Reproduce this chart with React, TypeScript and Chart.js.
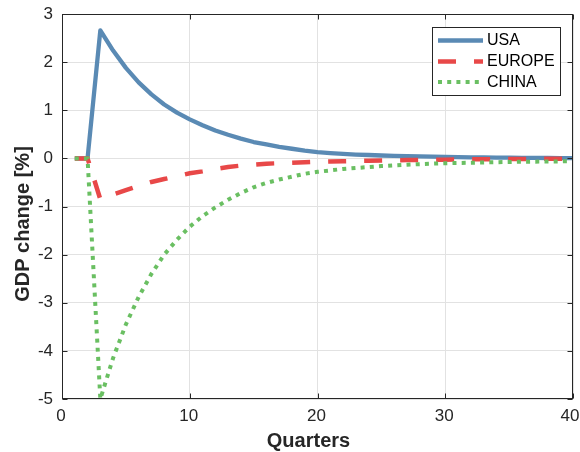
import { useEffect, useRef } from 'react';
import { Chart, registerables } from 'chart.js';

Chart.register(...registerables);

const quarters = [
  1, 2, 3, 4, 5, 6, 7, 8, 9, 10,
  11, 12, 13, 14, 15, 16, 17, 18, 19, 20,
  21, 22, 23, 24, 25, 26, 27, 28, 29, 30,
  31, 32, 33, 34, 35, 36, 37, 38, 39, 40,
];

const usa = [
  0, 0, 2.66, 2.24, 1.88, 1.58, 1.33, 1.12, 0.95, 0.81,
  0.69, 0.58, 0.49, 0.41, 0.34, 0.29, 0.24, 0.2, 0.16, 0.13,
  0.11, 0.095, 0.08, 0.07, 0.06, 0.052, 0.045, 0.04, 0.035, 0.03,
  0.026, 0.022, 0.019, 0.016, 0.014, 0.012, 0.01, 0.008, 0.007, 0.006,
];

const europe = [
  0, 0, -0.85, -0.75, -0.66, -0.57, -0.49, -0.43, -0.37, -0.31,
  -0.27, -0.22, -0.18, -0.15, -0.13, -0.11, -0.1, -0.09, -0.08, -0.07,
  -0.065, -0.06, -0.055, -0.05, -0.045, -0.04, -0.036, -0.032, -0.029, -0.026,
  -0.023, -0.02, -0.018, -0.016, -0.014, -0.012, -0.011, -0.01, -0.009, -0.008,
];

const china = [
  0, 0, -5.0, -4.15, -3.45, -2.88, -2.4, -2.0, -1.69, -1.42,
  -1.2, -1.02, -0.86, -0.72, -0.6, -0.51, -0.44, -0.38, -0.32, -0.28,
  -0.25, -0.22, -0.2, -0.18, -0.16, -0.145, -0.13, -0.12, -0.11, -0.1,
  -0.095, -0.09, -0.085, -0.08, -0.075, -0.07, -0.068, -0.065, -0.062, -0.06,
];

const seriesNames = ['USA', 'EUROPE', 'CHINA'];
const xTickValues = [0, 10, 20, 30, 40];
const yTickValues = [-5, -4, -3, -2, -1, 0, 1, 2, 3];
const xTitle = 'Quarters';
const yTitle = 'GDP change [%]';

const FONT = "'Liberation Sans', Arial, Helvetica, sans-serif";
const AXIS_COLOR = '#262626';

const framePlugin = {
  id: 'frameAndLegend',
  afterDraw(chart: any) {
    const { ctx, chartArea, scales, width } = chart;
    const { left, right, top, bottom } = chartArea;
    const L = Math.round(left) + 0.5;
    const R = Math.round(right) - 0.5;
    const T = Math.round(top) + 0.5;
    const B = Math.round(bottom) - 0.5;
    ctx.save();
    ctx.strokeStyle = AXIS_COLOR;
    ctx.lineWidth = 1;
    ctx.setLineDash([]);
    ctx.strokeRect(L, T, R - L, B - T);
    const tl = 5;
    ctx.beginPath();
    scales.x.ticks.forEach((t: any) => {
      const px = Math.round(scales.x.getPixelForValue(t.value)) + 0.5;
      ctx.moveTo(px, B);
      ctx.lineTo(px, B - tl);
      ctx.moveTo(px, T);
      ctx.lineTo(px, T + tl);
    });
    scales.y.ticks.forEach((t: any) => {
      const py = Math.round(scales.y.getPixelForValue(t.value)) + 0.5;
      ctx.moveTo(L, py);
      ctx.lineTo(L + tl, py);
      ctx.moveTo(R, py);
      ctx.lineTo(R - tl, py);
    });
    ctx.stroke();

    // x tick labels (kept inside the canvas like the reference)
    ctx.fillStyle = AXIS_COLOR;
    ctx.font = `17px ${FONT}`;
    ctx.textBaseline = 'middle';
    ctx.textAlign = 'center';
    scales.x.ticks.forEach((t: any) => {
      const label = String(t.value);
      const w = ctx.measureText(label).width;
      let px = scales.x.getPixelForValue(t.value) - 1;
      px = Math.min(px, width - 0.5 - w / 2);
      ctx.fillText(label, px, bottom + 17.5);
    });

    // axis titles
    ctx.font = `bold 20px ${FONT}`;
    ctx.textBaseline = 'alphabetic';
    ctx.textAlign = 'center';
    ctx.fillText(xTitle, 308.5, 447);
    ctx.save();
    ctx.translate(28.5, 224);
    ctx.rotate(-Math.PI / 2);
    ctx.fillText(yTitle, 0, 0);
    ctx.restore();

    // legend
    const bx = 432.5;
    const by = 27.5;
    const bw = 128;
    const bh = 68;
    ctx.fillStyle = '#ffffff';
    ctx.fillRect(bx, by, bw, bh);
    ctx.strokeStyle = AXIS_COLOR;
    ctx.lineWidth = 1;
    ctx.strokeRect(bx, by, bw, bh);
    const rowYs = [40.5, 61.5, 82];
    chart.data.datasets.forEach((ds: any, i: number) => {
      const yy = rowYs[i];
      ctx.save();
      ctx.strokeStyle = ds.borderColor;
      ctx.lineWidth = ds.borderWidth;
      ctx.lineCap = 'butt';
      ctx.setLineDash(ds.borderDash || []);
      ctx.beginPath();
      ctx.moveTo(438, yy);
      ctx.lineTo(483, yy);
      ctx.stroke();
      ctx.restore();
      ctx.fillStyle = '#000000';
      ctx.font = `16px ${FONT}`;
      ctx.textBaseline = 'middle';
      ctx.textAlign = 'left';
      ctx.fillText(ds.label, 487, yy + 0.5);
    });
    ctx.restore();
  },
};

export default function App() {
  const ref = useRef<HTMLCanvasElement | null>(null);

  useEffect(() => {
    if (!ref.current) return;
    const mk = (vals: number[]) => quarters.map((q, i) => ({ x: q, y: vals[i] }));
    const chart = new Chart(ref.current, {
      type: 'line',
      data: {
        datasets: [
          {
            label: seriesNames[0],
            data: mk(usa),
            borderColor: '#5a8ab4',
            borderWidth: 4.3,
            pointRadius: 0,
            borderJoinStyle: 'round',
            tension: 0,
            order: 3,
          },
          {
            label: seriesNames[1],
            data: mk(europe),
            borderColor: '#e84848',
            borderWidth: 4.5,
            borderDash: [18, 18],
            pointRadius: 0,
            tension: 0,
            order: 2,
          },
          {
            label: seriesNames[2],
            data: mk(china),
            borderColor: '#6abf62',
            borderWidth: 4,
            borderDash: [4, 5.2],
            pointRadius: 0,
            tension: 0,
            order: 1,
          },
        ],
      },
      options: {
        responsive: false,
        animation: false,
        devicePixelRatio: 1,
        layout: { padding: { top: 14, right: 7, left: 0, bottom: 0 } },
        plugins: {
          legend: { display: false },
          tooltip: { enabled: false },
        },
        scales: {
          x: {
            type: 'linear',
            min: 0,
            max: 40,
            afterBuildTicks: (s: any) => {
              s.ticks = xTickValues.map((v) => ({ value: v }));
            },
            afterFit: (s: any) => {
              s.height = 53;
              s.paddingLeft = 0;
              s.paddingRight = 0;
            },
            grid: { color: '#e2e2e2', lineWidth: 1, drawTicks: false },
            border: { display: false },
            ticks: { display: false },
            title: { display: false },
          },
          y: {
            type: 'linear',
            min: -5,
            max: 3,
            afterBuildTicks: (s: any) => {
              s.ticks = yTickValues.map((v) => ({ value: v }));
            },
            afterFit: (s: any) => {
              s.width = 62;
              s.paddingTop = 0;
              s.paddingBottom = 0;
            },
            grid: { color: '#e2e2e2', lineWidth: 1, drawTicks: false },
            border: { display: false },
            ticks: {
              color: AXIS_COLOR,
              font: { family: FONT, size: 17 },
              padding: 9,
            },
            title: { display: false },
          },
        },
      },
      plugins: [framePlugin],
    } as any);
    return () => chart.destroy();
  }, []);

  return (
    <div style={{ position: 'absolute', left: 0, top: 0, width: 580, height: 452 }}>
      <canvas ref={ref} width={580} height={452} style={{ display: 'block' }} />
    </div>
  );
}
